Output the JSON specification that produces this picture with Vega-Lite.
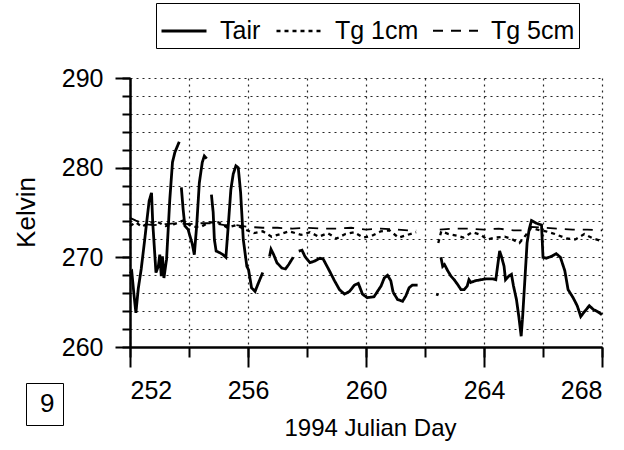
{
  "$schema": "https://vega.github.io/schema/vega-lite/v6.json",
  "width": 472,
  "height": 269,
  "autosize": {"type": "none"},
  "padding": {"left": 130, "top": 78, "right": 22, "bottom": 103},
  "background": "white",
  "config": {
    "view": {"stroke": null},
    "font": "Liberation Sans",
    "axis": {
      "domainColor": "black", "domainWidth": 2, "tickColor": "black", "tickWidth": 2,
      "labelColor": "black", "titleColor": "black", "labelFont": "Liberation Sans", "titleFont": "Liberation Sans",
      "labelFontSize": 25, "titleFontSize": 24, "titleFontWeight": "normal"
    }
  },
  "datasets": {
    "temps": [
      {"day":252.00,"K":268.2,"series":"Tair","seg":1},{"day":252.06,"K":268.4,"series":"Tair","seg":1},{"day":252.13,"K":266.0,"series":"Tair","seg":1},{"day":252.20,"K":263.8,"series":"Tair","seg":1},{"day":252.28,"K":266.5,"series":"Tair","seg":1},{"day":252.38,"K":268.7,"series":"Tair","seg":1},{"day":252.50,"K":272.0,"series":"Tair","seg":1},{"day":252.55,"K":273.5,"series":"Tair","seg":1},{"day":252.65,"K":276.3,"series":"Tair","seg":1},{"day":252.73,"K":277.2,"series":"Tair","seg":1},{"day":252.77,"K":273.9,"series":"Tair","seg":1},{"day":252.88,"K":268.3,"series":"Tair","seg":1},{"day":252.96,"K":269.0,"series":"Tair","seg":1},{"day":253.01,"K":270.3,"series":"Tair","seg":1},{"day":253.06,"K":267.9,"series":"Tair","seg":1},{"day":253.10,"K":270.1,"series":"Tair","seg":1},{"day":253.15,"K":267.7,"series":"Tair","seg":1},{"day":253.24,"K":269.8,"series":"Tair","seg":1},{"day":253.35,"K":276.5,"series":"Tair","seg":1},{"day":253.44,"K":280.6,"series":"Tair","seg":1},{"day":253.52,"K":281.7,"series":"Tair","seg":1},{"day":253.67,"K":282.9,"series":"Tair","seg":1},
      {"day":253.74,"K":277.8,"series":"Tair","seg":2},{"day":253.80,"K":275.4,"series":"Tair","seg":2},{"day":253.86,"K":273.5,"series":"Tair","seg":2},{"day":253.97,"K":273.1,"series":"Tair","seg":2},{"day":254.03,"K":272.4,"series":"Tair","seg":2},{"day":254.11,"K":271.5,"series":"Tair","seg":2},{"day":254.18,"K":270.3,"series":"Tair","seg":2},{"day":254.26,"K":273.5,"series":"Tair","seg":2},{"day":254.35,"K":278.3,"series":"Tair","seg":2},{"day":254.45,"K":280.6,"series":"Tair","seg":2},{"day":254.52,"K":281.3,"series":"Tair","seg":2},{"day":254.60,"K":281.0,"series":"Tair","seg":2},
      {"day":254.76,"K":277.0,"series":"Tair","seg":3},{"day":254.82,"K":275.0,"series":"Tair","seg":3},{"day":254.86,"K":272.0,"series":"Tair","seg":3},{"day":254.92,"K":270.7,"series":"Tair","seg":3},{"day":255.05,"K":270.5,"series":"Tair","seg":3},{"day":255.15,"K":270.3,"series":"Tair","seg":3},{"day":255.25,"K":270.0,"series":"Tair","seg":3},{"day":255.33,"K":273.5,"series":"Tair","seg":3},{"day":255.42,"K":277.6,"series":"Tair","seg":3},{"day":255.50,"K":279.3,"series":"Tair","seg":3},{"day":255.59,"K":280.2,"series":"Tair","seg":3},{"day":255.67,"K":280.0,"series":"Tair","seg":3},{"day":255.75,"K":277.2,"series":"Tair","seg":3},{"day":255.84,"K":272.0,"series":"Tair","seg":3},{"day":255.96,"K":269.0,"series":"Tair","seg":3},{"day":256.02,"K":268.6,"series":"Tair","seg":3},{"day":256.12,"K":266.6,"series":"Tair","seg":3},{"day":256.24,"K":266.2,"series":"Tair","seg":3},{"day":256.36,"K":267.2,"series":"Tair","seg":3},{"day":256.50,"K":268.3,"series":"Tair","seg":3},
      {"day":256.73,"K":270.1,"series":"Tair","seg":4},{"day":256.78,"K":270.9,"series":"Tair","seg":4},{"day":256.87,"K":270.3,"series":"Tair","seg":4},{"day":256.98,"K":269.4,"series":"Tair","seg":4},{"day":257.15,"K":268.8,"series":"Tair","seg":4},{"day":257.27,"K":268.7,"series":"Tair","seg":4},{"day":257.38,"K":269.2,"series":"Tair","seg":4},{"day":257.53,"K":270.0,"series":"Tair","seg":4},
      {"day":257.72,"K":270.7,"series":"Tair","seg":5},{"day":257.83,"K":270.8,"series":"Tair","seg":5},{"day":257.93,"K":270.1,"series":"Tair","seg":5},{"day":258.10,"K":269.4,"series":"Tair","seg":5},{"day":258.27,"K":269.6,"series":"Tair","seg":5},{"day":258.44,"K":269.9,"series":"Tair","seg":5},{"day":258.55,"K":269.8,"series":"Tair","seg":5},{"day":258.76,"K":268.5,"series":"Tair","seg":5},{"day":258.93,"K":267.4,"series":"Tair","seg":5},{"day":259.10,"K":266.4,"series":"Tair","seg":5},{"day":259.27,"K":265.9,"series":"Tair","seg":5},{"day":259.44,"K":266.2,"series":"Tair","seg":5},{"day":259.61,"K":266.9,"series":"Tair","seg":5},{"day":259.74,"K":267.1,"series":"Tair","seg":5},{"day":259.88,"K":265.9,"series":"Tair","seg":5},{"day":260.04,"K":265.5,"series":"Tair","seg":5},{"day":260.27,"K":265.6,"series":"Tair","seg":5},{"day":260.51,"K":266.8,"series":"Tair","seg":5},{"day":260.62,"K":267.7,"series":"Tair","seg":5},{"day":260.73,"K":268.0,"series":"Tair","seg":5},{"day":260.84,"K":267.4,"series":"Tair","seg":5},{"day":260.92,"K":266.1,"series":"Tair","seg":5},{"day":261.07,"K":265.3,"series":"Tair","seg":5},{"day":261.24,"K":265.1,"series":"Tair","seg":5},{"day":261.35,"K":265.7,"series":"Tair","seg":5},{"day":261.46,"K":266.6,"series":"Tair","seg":5},{"day":261.57,"K":266.9,"series":"Tair","seg":5},{"day":261.75,"K":266.9,"series":"Tair","seg":5},
      {"day":262.38,"K":265.9,"series":"Tair","seg":6},{"day":262.46,"K":265.8,"series":"Tair","seg":6},
      {"day":262.54,"K":270.0,"series":"Tair","seg":7},{"day":262.60,"K":269.0,"series":"Tair","seg":7},{"day":262.66,"K":269.2,"series":"Tair","seg":7},{"day":262.77,"K":268.5,"series":"Tair","seg":7},{"day":262.88,"K":267.9,"series":"Tair","seg":7},{"day":262.99,"K":267.5,"series":"Tair","seg":7},{"day":263.10,"K":267.0,"series":"Tair","seg":7},{"day":263.22,"K":266.4,"series":"Tair","seg":7},{"day":263.33,"K":266.4,"series":"Tair","seg":7},{"day":263.43,"K":266.8,"series":"Tair","seg":7},{"day":263.49,"K":267.5,"series":"Tair","seg":7},{"day":263.55,"K":267.2,"series":"Tair","seg":7},{"day":263.72,"K":267.4,"series":"Tair","seg":7},{"day":263.89,"K":267.5,"series":"Tair","seg":7},{"day":264.06,"K":267.6,"series":"Tair","seg":7},{"day":264.29,"K":267.6,"series":"Tair","seg":7},{"day":264.40,"K":267.5,"series":"Tair","seg":7},{"day":264.46,"K":269.0,"series":"Tair","seg":7},{"day":264.53,"K":270.7,"series":"Tair","seg":7},{"day":264.60,"K":270.0,"series":"Tair","seg":7},{"day":264.68,"K":269.0,"series":"Tair","seg":7},{"day":264.73,"K":267.5,"series":"Tair","seg":7},{"day":264.84,"K":267.9,"series":"Tair","seg":7},{"day":264.93,"K":268.1,"series":"Tair","seg":7},{"day":265.00,"K":266.8,"series":"Tair","seg":7},{"day":265.10,"K":265.3,"series":"Tair","seg":7},{"day":265.18,"K":263.4,"series":"Tair","seg":7},{"day":265.26,"K":261.2,"series":"Tair","seg":7},{"day":265.31,"K":263.4,"series":"Tair","seg":7},{"day":265.38,"K":267.2,"series":"Tair","seg":7},{"day":265.46,"K":271.6,"series":"Tair","seg":7},{"day":265.53,"K":273.1,"series":"Tair","seg":7},{"day":265.61,"K":274.1,"series":"Tair","seg":7},{"day":265.78,"K":273.8,"series":"Tair","seg":7},{"day":265.95,"K":273.6,"series":"Tair","seg":7},{"day":266.00,"K":270.0,"series":"Tair","seg":7},{"day":266.11,"K":269.9,"series":"Tair","seg":7},{"day":266.28,"K":270.1,"series":"Tair","seg":7},{"day":266.45,"K":270.4,"series":"Tair","seg":7},{"day":266.59,"K":270.0,"series":"Tair","seg":7},{"day":266.74,"K":268.5,"series":"Tair","seg":7},{"day":266.85,"K":266.4,"series":"Tair","seg":7},{"day":267.02,"K":265.5,"series":"Tair","seg":7},{"day":267.16,"K":264.6,"series":"Tair","seg":7},{"day":267.28,"K":263.4,"series":"Tair","seg":7},{"day":267.42,"K":264.0,"series":"Tair","seg":7},{"day":267.57,"K":264.6,"series":"Tair","seg":7},{"day":267.70,"K":264.2,"series":"Tair","seg":7},{"day":267.87,"K":263.9,"series":"Tair","seg":7},{"day":268.00,"K":263.6,"series":"Tair","seg":7},
      {"day":252.0,"K":274.4,"series":"Tg 5cm","seg":1},{"day":252.2,"K":274.1,"series":"Tg 5cm","seg":1},{"day":252.5,"K":273.7,"series":"Tg 5cm","seg":1},{"day":252.8,"K":273.6,"series":"Tg 5cm","seg":1},{"day":253.2,"K":273.7,"series":"Tg 5cm","seg":1},{"day":253.6,"K":273.8,"series":"Tg 5cm","seg":1},{"day":254.0,"K":273.7,"series":"Tg 5cm","seg":1},{"day":254.4,"K":273.8,"series":"Tg 5cm","seg":1},{"day":254.8,"K":273.8,"series":"Tg 5cm","seg":1},{"day":255.2,"K":273.6,"series":"Tg 5cm","seg":1},{"day":255.6,"K":273.6,"series":"Tg 5cm","seg":1},{"day":256.0,"K":273.4,"series":"Tg 5cm","seg":1},{"day":256.5,"K":273.3,"series":"Tg 5cm","seg":1},{"day":257.0,"K":273.3,"series":"Tg 5cm","seg":1},{"day":257.5,"K":273.2,"series":"Tg 5cm","seg":1},{"day":258.0,"K":273.3,"series":"Tg 5cm","seg":1},{"day":258.5,"K":273.2,"series":"Tg 5cm","seg":1},{"day":259.0,"K":273.2,"series":"Tg 5cm","seg":1},{"day":259.5,"K":273.3,"series":"Tg 5cm","seg":1},{"day":260.0,"K":273.1,"series":"Tg 5cm","seg":1},{"day":260.5,"K":273.2,"series":"Tg 5cm","seg":1},{"day":261.0,"K":273.1,"series":"Tg 5cm","seg":1},{"day":261.5,"K":273.0,"series":"Tg 5cm","seg":1},{"day":261.7,"K":273.0,"series":"Tg 5cm","seg":1},
      {"day":262.5,"K":273.1,"series":"Tg 5cm","seg":2},{"day":263.0,"K":273.2,"series":"Tg 5cm","seg":2},{"day":263.5,"K":273.2,"series":"Tg 5cm","seg":2},{"day":264.0,"K":273.1,"series":"Tg 5cm","seg":2},{"day":264.5,"K":273.2,"series":"Tg 5cm","seg":2},{"day":265.0,"K":273.0,"series":"Tg 5cm","seg":2},{"day":265.3,"K":273.0,"series":"Tg 5cm","seg":2},{"day":265.6,"K":273.4,"series":"Tg 5cm","seg":2},{"day":266.0,"K":273.3,"series":"Tg 5cm","seg":2},{"day":266.5,"K":273.2,"series":"Tg 5cm","seg":2},{"day":267.0,"K":273.1,"series":"Tg 5cm","seg":2},{"day":267.5,"K":273.1,"series":"Tg 5cm","seg":2},{"day":268.0,"K":273.0,"series":"Tg 5cm","seg":2},
      {"day":252.0,"K":273.5,"series":"Tg 1cm","seg":1},{"day":252.2,"K":273.9,"series":"Tg 1cm","seg":1},{"day":252.4,"K":273.4,"series":"Tg 1cm","seg":1},{"day":252.6,"K":273.8,"series":"Tg 1cm","seg":1},{"day":252.9,"K":274.0,"series":"Tg 1cm","seg":1},{"day":253.2,"K":273.5,"series":"Tg 1cm","seg":1},{"day":253.5,"K":273.7,"series":"Tg 1cm","seg":1},{"day":253.8,"K":274.1,"series":"Tg 1cm","seg":1},{"day":254.1,"K":273.4,"series":"Tg 1cm","seg":1},{"day":254.4,"K":273.4,"series":"Tg 1cm","seg":1},{"day":254.7,"K":273.9,"series":"Tg 1cm","seg":1},{"day":255.0,"K":273.9,"series":"Tg 1cm","seg":1},{"day":255.3,"K":273.3,"series":"Tg 1cm","seg":1},{"day":255.6,"K":273.6,"series":"Tg 1cm","seg":1},{"day":255.9,"K":273.1,"series":"Tg 1cm","seg":1},{"day":256.2,"K":272.7,"series":"Tg 1cm","seg":1},{"day":256.5,"K":272.9,"series":"Tg 1cm","seg":1},{"day":256.8,"K":272.3,"series":"Tg 1cm","seg":1},{"day":257.1,"K":272.6,"series":"Tg 1cm","seg":1},{"day":257.4,"K":272.9,"series":"Tg 1cm","seg":1},{"day":257.8,"K":272.5,"series":"Tg 1cm","seg":1},{"day":258.1,"K":272.8,"series":"Tg 1cm","seg":1},{"day":258.4,"K":272.3,"series":"Tg 1cm","seg":1},{"day":258.7,"K":272.7,"series":"Tg 1cm","seg":1},{"day":259.0,"K":272.1,"series":"Tg 1cm","seg":1},{"day":259.3,"K":272.6,"series":"Tg 1cm","seg":1},{"day":259.6,"K":272.8,"series":"Tg 1cm","seg":1},{"day":259.9,"K":272.2,"series":"Tg 1cm","seg":1},{"day":260.2,"K":272.4,"series":"Tg 1cm","seg":1},{"day":260.5,"K":272.9,"series":"Tg 1cm","seg":1},{"day":260.8,"K":273.0,"series":"Tg 1cm","seg":1},{"day":261.1,"K":272.2,"series":"Tg 1cm","seg":1},{"day":261.4,"K":272.5,"series":"Tg 1cm","seg":1},{"day":261.7,"K":272.8,"series":"Tg 1cm","seg":1},
      {"day":262.45,"K":271.6,"series":"Tg 1cm","seg":2},{"day":262.55,"K":272.9,"series":"Tg 1cm","seg":2},{"day":262.8,"K":272.6,"series":"Tg 1cm","seg":2},{"day":263.1,"K":272.4,"series":"Tg 1cm","seg":2},{"day":263.3,"K":272.2,"series":"Tg 1cm","seg":2},{"day":263.6,"K":272.8,"series":"Tg 1cm","seg":2},{"day":263.9,"K":272.5,"series":"Tg 1cm","seg":2},{"day":264.1,"K":272.0,"series":"Tg 1cm","seg":2},{"day":264.4,"K":272.2,"series":"Tg 1cm","seg":2},{"day":264.7,"K":272.3,"series":"Tg 1cm","seg":2},{"day":264.9,"K":272.1,"series":"Tg 1cm","seg":2},{"day":265.2,"K":271.6,"series":"Tg 1cm","seg":2},{"day":265.4,"K":272.4,"series":"Tg 1cm","seg":2},{"day":265.6,"K":273.3,"series":"Tg 1cm","seg":2},{"day":265.9,"K":273.0,"series":"Tg 1cm","seg":2},{"day":266.1,"K":272.9,"series":"Tg 1cm","seg":2},{"day":266.4,"K":272.6,"series":"Tg 1cm","seg":2},{"day":266.8,"K":272.1,"series":"Tg 1cm","seg":2},{"day":267.1,"K":272.0,"series":"Tg 1cm","seg":2},{"day":267.4,"K":272.6,"series":"Tg 1cm","seg":2},{"day":267.7,"K":272.1,"series":"Tg 1cm","seg":2},{"day":268.0,"K":271.8,"series":"Tg 1cm","seg":2}
    ]
  },
  "resolve": {"axis": {"x": "independent", "y": "independent"}},
  "layer": [
    {
      "data": {"name": "temps"},
      "mark": {"type": "line", "color": "black", "interpolate": "linear"},
      "encoding": {
        "x": {"field": "day", "type": "quantitative", "scale": {"domain": [252, 268], "nice": false, "zero": false},
          "axis": {"orient": "bottom", "values": [252,254,256,258,260,262,264,266,268], "labels": false, "title": null, "tickSize": 10,
            "grid": true, "gridColor": "black", "gridDash": [2, 4], "gridWidth": 1.2, "gridOpacity": 0.85}},
        "y": {"field": "K", "type": "quantitative", "scale": {"domain": [260, 290], "nice": false, "zero": false},
          "axis": {"orient": "left", "values": [260,262,264,266,268,270,272,274,276,278,280,282,284,286,288,290], "labels": false, "title": null, "tickSize": 8,
            "grid": true, "gridColor": "black", "gridDash": [2, 4], "gridWidth": 1.2, "gridOpacity": 0.85}},
        "strokeDash": {"field": "series", "type": "nominal",
          "scale": {"domain": ["Tair", "Tg 1cm", "Tg 5cm"], "range": [[1, 0], [4, 4], [10, 8]]},
          "legend": {"title": null, "orient": "none", "legendX": 26, "legendY": -75, "direction": "horizontal",
            "strokeColor": "black", "padding": 4, "symbolType": "stroke", "symbolSize": 2025, "symbolStrokeWidth": 1.5,
            "symbolStrokeColor": "black", "labelFontSize": 25, "labelOffset": 12, "columnPadding": 10,
            "labelColor": "black", "labelFont": "Liberation Sans"}},
        "strokeWidth": {"field": "series", "type": "nominal", "scale": {"domain": ["Tair", "Tg 1cm", "Tg 5cm"], "range": [2.8, 1.8, 1.8]}, "legend": null},
        "detail": {"field": "seg", "type": "nominal"}
      }
    },
    {
      "data": {"name": "temps"},
      "mark": {"type": "point", "opacity": 0},
      "encoding": {
        "x": {"field": "day", "type": "quantitative",
          "axis": {"orient": "bottom", "values": [252, 256, 260, 264, 268], "tickSize": 20, "labelPadding": 11, "grid": false,
            "title": "1994 Julian Day", "titleFontSize": 24, "titleX": 240, "titleY": 88, "titleBaseline": "alphabetic", "titleAlign": "center"}},
        "y": {"field": "K", "type": "quantitative",
          "axis": {"orient": "left", "values": [260, 270, 280, 290], "tickSize": 15, "labelPadding": 12, "grid": false,
            "title": "Kelvin", "titleFontSize": 26, "titleX": -104, "titleY": 134, "titleAngle": -90, "titleBaseline": "middle", "titleAlign": "center"}},
        "shape": {"datum": "9",
          "legend": {"title": null, "orient": "none", "legendX": -104, "legendY": 305, "strokeColor": "black", "padding": 8,
            "symbolSize": 0, "symbolOpacity": 0, "symbolStrokeWidth": 0, "labelOffset": -20, "labelFontSize": 26,
            "labelColor": "black", "labelFont": "Liberation Sans"}}
      }
    }
  ]
}
